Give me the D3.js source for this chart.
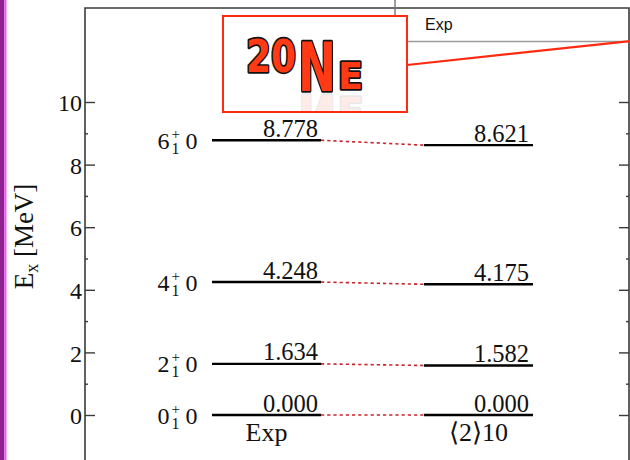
<!DOCTYPE html>
<html>
<head>
<meta charset="utf-8">
<script src="https://cdn.jsdelivr.net/npm/d3@7"></script>
<style>
  html, body { margin: 0; padding: 0; background: #fff; overflow: hidden; }
  svg { display: block; }
</style>
</head>
<body>
<svg id="chart" width="630" height="460" xmlns:xlink="http://www.w3.org/1999/xlink"></svg>
<script>
// ---------------- data ----------------
const spins = ["0", "2", "4", "6"];
const expEnergies = [0.000, 1.634, 4.248, 8.778];
const calcEnergies = [0.000, 1.582, 4.175, 8.621];
const columnLabels = ["Exp", "\u27E82\u27E910"];
const yTicks = [0, 2, 4, 6, 8, 10];
const yMinorTicks = [1, 3, 5, 7, 9];
const yAxisTitle = ["E", "x", " [MeV]"];
const insetLabel = "Exp";
const logoParts = ["20", "N", "E"];

// ---------------- setup ----------------
const W = 630, H = 460;
const svg = d3.select("#chart");
const serif = "'Liberation Serif', 'Times New Roman', serif";
const sans = "'Liberation Sans', Arial, sans-serif";

const plot = { left: 85, right: 629, top: 8, bottom: 470 };
const y = d3.scaleLinear().domain([0, 10]).range([415, 102]);
const x = d3.scalePoint().domain(columnLabels).range([266.5, 478.5]);
const halfW = 54.5;

// left purple strip
svg.append("rect").attr("x", 0).attr("y", 0).attr("width", 4.3).attr("height", H).attr("fill", "#8e2190");
svg.append("rect").attr("x", 4.3).attr("y", 0).attr("width", 2.2).attr("height", H).attr("fill", "#ef5cef");

// frame
svg.append("path")
  .attr("d", `M${plot.left},${plot.bottom}V${plot.top}H${plot.right}V${plot.bottom}`)
  .attr("fill", "none").attr("stroke", "#3a3a3a").attr("stroke-width", 1.6);

// axes
function styleAxis(g) {
  g.select(".domain").remove();
  g.selectAll(".tick line").attr("stroke", "#3a3a3a").attr("stroke-width", 1.4);
  g.selectAll(".tick text").attr("font-family", serif).attr("font-size", 24).attr("fill", "#111");
}
svg.append("g").attr("transform", `translate(${plot.left},0)`)
  .call(d3.axisLeft(y).tickValues(yTicks).tickSize(-10).tickPadding(3).tickFormat(d3.format("d")))
  .call(styleAxis)
  .selectAll(".tick text").attr("dy", "0.36em");
svg.append("g").attr("transform", `translate(${plot.left},0)`)
  .call(d3.axisLeft(y).tickValues(yMinorTicks).tickSize(-3).tickFormat(""))
  .call(styleAxis);
svg.append("g").attr("transform", `translate(${plot.right},0)`)
  .call(d3.axisRight(y).tickValues(yTicks).tickSize(-10).tickFormat(""))
  .call(styleAxis);
svg.append("g").attr("transform", `translate(${plot.right},0)`)
  .call(d3.axisRight(y).tickValues(yMinorTicks).tickSize(-3).tickFormat(""))
  .call(styleAxis);

// y axis title
const yt = svg.append("text")
  .attr("transform", `translate(33,236.5) rotate(-90)`)
  .attr("text-anchor", "middle")
  .attr("font-family", serif).attr("font-size", 27).attr("fill", "#111");
yt.append("tspan").text(yAxisTitle[0]);
yt.append("tspan").attr("font-size", 18).attr("dy", 5).text(yAxisTitle[1]);
yt.append("tspan").attr("dy", -5).text(yAxisTitle[2]);

// levels
const levels = spins.map((j, i) => ({ j, e: expEnergies[i], c: calcEnergies[i] }));
const cExp = x(columnLabels[0]), cCalc = x(columnLabels[1]);

// connectors
svg.append("g").selectAll("line").data(levels).join("line")
  .attr("x1", cExp + halfW).attr("y1", d => y(d.e))
  .attr("x2", cCalc - halfW).attr("y2", d => y(d.c))
  .attr("stroke", "#c8262c").attr("stroke-width", 1.6).attr("stroke-dasharray", "3.2,3");

// level lines
const lvl = svg.append("g");
lvl.selectAll("line.exp").data(levels).join("line").attr("class", "exp")
  .attr("x1", cExp - halfW).attr("x2", cExp + halfW)
  .attr("y1", d => y(d.e)).attr("y2", d => y(d.e))
  .attr("stroke", "#000").attr("stroke-width", 2.4);
lvl.selectAll("line.calc").data(levels).join("line").attr("class", "calc")
  .attr("x1", cCalc - halfW).attr("x2", cCalc + halfW)
  .attr("y1", d => y(d.c)).attr("y2", d => y(d.c))
  .attr("stroke", "#000").attr("stroke-width", 2.4);

// energy values
const fmt = d3.format(".3f");
svg.append("g").selectAll("text").data(levels).join("text")
  .attr("x", cExp + halfW - 3).attr("y", d => y(d.e) - 3.5)
  .attr("text-anchor", "end").attr("font-family", serif).attr("font-size", 24.5).attr("fill", "#111")
  .text(d => fmt(d.e));
svg.append("g").selectAll("text").data(levels).join("text")
  .attr("x", cCalc + halfW - 4).attr("y", d => y(d.c) - 3.5)
  .attr("text-anchor", "end").attr("font-family", serif).attr("font-size", 24.5).attr("fill", "#111")
  .text(d => fmt(d.c));

// level labels  J^+_1 0
const labs = svg.append("g").selectAll("text").data(levels).join("text")
  .attr("x", 157.5).attr("y", d => y(d.e) + 8.5)
  .attr("font-family", serif).attr("font-size", 24).attr("fill", "#111");
labs.append("tspan").text(d => d.j);
labs.append("tspan").attr("font-size", 15).attr("dy", -10).attr("dx", 2).text("+");
labs.append("tspan").attr("font-size", 16).attr("dy", 15).attr("dx", -8.5).text("1");
labs.append("tspan").attr("dy", -5).attr("dx", 0).text("\u00A00");

// column labels
svg.append("g").selectAll("text").data(columnLabels).join("text")
  .attr("x", d => x(d)).attr("y", 441)
  .attr("text-anchor", "middle").attr("font-family", serif).attr("font-size", 26).attr("fill", "#111")
  .text(d => d);

// ---------------- overlay (inset + logo) ----------------
svg.append("line").attr("x1", 395).attr("x2", 395).attr("y1", 0).attr("y2", 16)
  .attr("stroke", "#777").attr("stroke-width", 1.4);
svg.append("line").attr("x1", 407).attr("x2", plot.right).attr("y1", 41.5).attr("y2", 41.5)
  .attr("stroke", "#9a9a9a").attr("stroke-width", 1.6);
svg.append("text").attr("x", 425).attr("y", 30).attr("font-family", sans).attr("font-size", 16)
  .attr("fill", "#111").text(insetLabel);

const defs = svg.append("defs");
defs.append("clipPath").attr("id", "boxclip")
  .append("rect").attr("x", 223).attr("y", 16).attr("width", 184).attr("height", 96);

svg.append("rect").attr("x", 223).attr("y", 16).attr("width", 184).attr("height", 96)
  .attr("fill", "#fff").attr("stroke", "#ff2a10").attr("stroke-width", 2);
svg.append("line").attr("x1", 407).attr("y1", 65).attr("x2", 631).attr("y2", 41)
  .attr("stroke", "#ff2a10").attr("stroke-width", 2.2);

function drawLogo(g) {
  const common = t => t.attr("font-family", "'DejaVu Sans', sans-serif").attr("font-weight", "bold")
    .attr("fill", "#ff3a14").attr("stroke", "#111").attr("stroke-width", 3.4)
    .attr("stroke-linejoin", "round").attr("paint-order", "stroke fill");
  g.append("text").attr("x", 246).attr("y", 72).attr("font-size", 44)
    .attr("textLength", 50).attr("lengthAdjust", "spacingAndGlyphs").text(logoParts[0]).call(common);
  g.append("text").attr("x", 298).attr("y", 91).attr("font-size", 68)
    .attr("textLength", 38).attr("lengthAdjust", "spacingAndGlyphs").text(logoParts[1]).call(common);
  g.append("text").attr("x", 338).attr("y", 89).attr("font-size", 37)
    .attr("textLength", 25).attr("lengthAdjust", "spacingAndGlyphs").text(logoParts[2]).call(common);
}
const logoWrap = svg.append("g").attr("clip-path", "url(#boxclip)");
const logo = logoWrap.append("g").attr("id", "logo");
drawLogo(logo);
// faint reflection below the logo
logoWrap.insert("use", "#logo").attr("href", "#logo").attr("xlink:href", "#logo")
  .attr("opacity", 0.09).attr("transform", "translate(0,186) scale(1,-1)");
</script>
</body>
</html>
